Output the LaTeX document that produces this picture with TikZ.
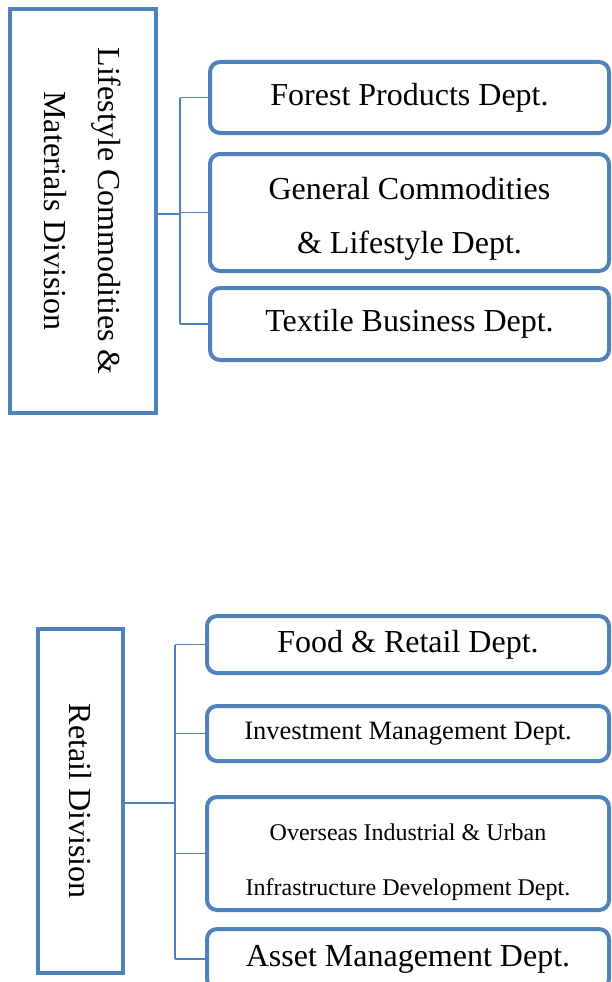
\documentclass[tikz,border=0pt]{standalone}
\usepackage{fontspec}
\setmainfont{Liberation Serif}
\definecolor{orgblue}{HTML}{4F81BD}

\begin{document}
\begin{tikzpicture}[x=1pt, y=-1pt,
    division/.style={draw=orgblue, line width=4.5pt, inner sep=0pt, align=center,
        font=\fontsize{32pt}{54pt}\selectfont},
    dept/.style={draw=orgblue, line width=4pt, rounded corners=10pt, inner sep=0pt,
        align=center, font=\fontsize{32pt}{54pt}\selectfont},
    link/.style={draw=orgblue, line width=1.4pt}]
    \useasboundingbox (0,0) rectangle (612,982);

    % upper division
    \begin{scope}
        \node[division, rotate=-90, minimum width=404pt, minimum height=146pt] (lcm) at (83,211) {Lifestyle Commodities \&\\ Materials Division};
        \node[dept, minimum width=399pt, minimum height=71pt] (forest) at (409.5,97.5) {Forest Products Dept.};
        \node[dept, minimum width=399pt, minimum height=117pt, text height=88pt] (general) at (409.5,212.5) {General Commodities\\ \& Lifestyle Dept.};
        \node[dept, minimum width=399pt, minimum height=72pt] (textile) at (409.5,324) {Textile Business Dept.};

        \coordinate (ltrunk) at (180,214);
        \draw[link] (lcm.north |- ltrunk) -- (ltrunk);
        \draw[link] (ltrunk |- forest.west) -- (ltrunk |- textile.west);
        \foreach \d in {forest,general,textile}
            \draw[link] (ltrunk |- \d.west) -- (\d.west);
    \end{scope}

    % lower division
    \begin{scope}
        \node[division, rotate=-90, minimum width=344pt, minimum height=85pt] (retail) at (80.5,801) {Retail Division};
        \node[dept, minimum width=402pt, minimum height=57pt] (food) at (408,644.5) {Food \& Retail Dept.};
        \node[dept, minimum width=402pt, minimum height=55pt, font=\fontsize{26.5pt}{54pt}\selectfont] (invest) at (408,733.5) {Investment Management Dept.};
        \node[dept, minimum width=402pt, minimum height=113pt, text height=89pt, font=\fontsize{24pt}{55pt}\selectfont] (overseas) at (408,853.5) {Overseas Industrial \& Urban\\ Infrastructure Development Dept.};
        \node[dept, minimum width=402pt, minimum height=60pt] (asset) at (408,959) {Asset Management Dept.};

        \coordinate (rtrunk) at (175,803);
        \draw[link] (retail.north |- rtrunk) -- (rtrunk);
        \draw[link] (rtrunk |- food.west) -- (rtrunk |- asset.west);
        \foreach \d in {food,invest,overseas,asset}
            \draw[link] (rtrunk |- \d.west) -- (\d.west);
    \end{scope}
\end{tikzpicture}
\end{document}
